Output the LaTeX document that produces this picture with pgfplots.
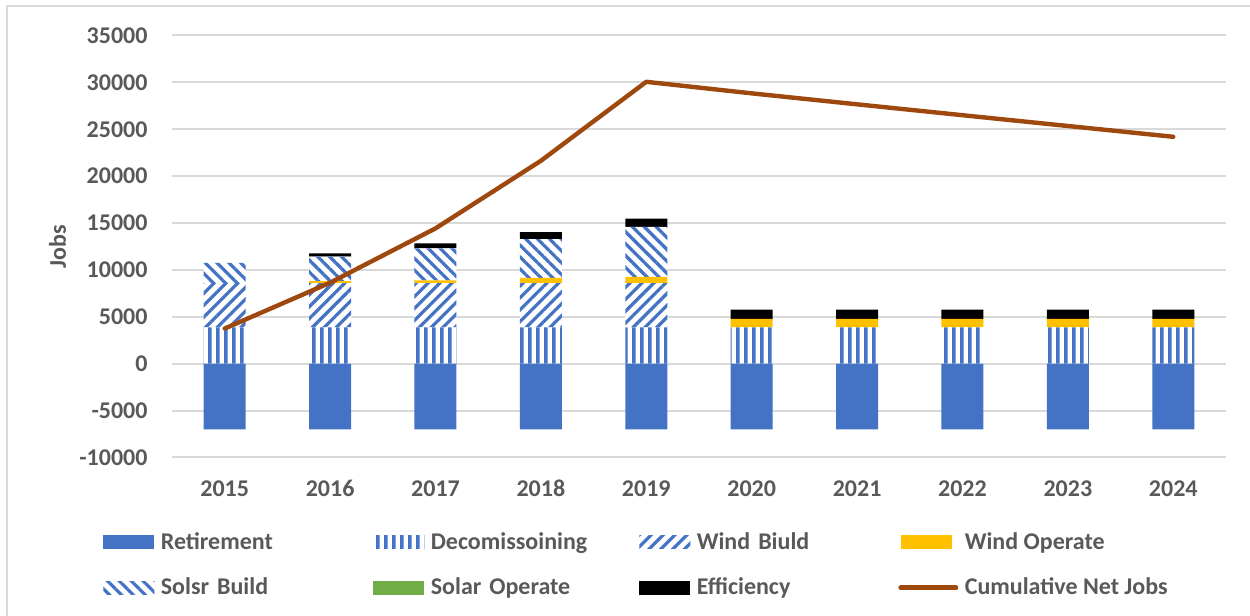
\documentclass[border=0pt]{standalone}
\usepackage{fontspec}
\setmainfont{Carlito}
\usepackage{pgfplots}
\pgfplotsset{compat=1.18}
\usetikzlibrary{patterns,patterns.meta}
\definecolor{retblue}{HTML}{4472C4}
\definecolor{windop}{HTML}{FFC000}
\definecolor{solarop}{HTML}{70AD47}
\definecolor{netline}{HTML}{9E480E}
\definecolor{txtgray}{HTML}{595959}
\definecolor{gridgray}{HTML}{D9D9D9}
\pgfdeclarepatternformonly{vstripes}{\pgfpoint{0pt}{0pt}}{\pgfpoint{4pt}{100pt}}{\pgfpoint{4pt}{100pt}}{%
  \pgfpathrectangle{\pgfpoint{0pt}{-0.5pt}}{\pgfpoint{2pt}{101pt}}\pgfusepath{fill}}
\pgfplotsset{
  barleg/.style={legend image code/.code={\path[##1] (0pt,-3.35pt) rectangle (25.5pt,3.35pt);}},
  lineleg/.style={legend image code/.code={\draw[##1] (0pt,0pt) -- (27.5pt,0pt);}},
  common/.style={width=527pt, height=211pt, scale only axis, xmin=-0.5, xmax=9.5,
    ymin=-10000, ymax=35000, anchor=south west, at={(0pt,0pt)}},
}
\newcommand{\lblfont}{\fontsize{12}{14}\selectfont\bfseries}
\begin{document}
\begin{tikzpicture}
\useasboundingbox (-86pt,-79.25pt) rectangle (539pt,228.75pt);
\draw[gridgray, line width=0.8pt] (-82.5pt,-79.25pt) -- (-82.5pt,225.75pt) -- (539pt,225.75pt);
\begin{axis}[common, ybar stacked, bar width=21pt,
  axis line style={draw=none}, major tick length=0pt,
  ymajorgrids, grid style={gridgray, line width=1pt},
  xtick={0,1,2,3,4,5,6,7,8,9},
  xticklabels={2015,2016,2017,2018,2019,2020,2021,2022,2023,2024},
  ytick={-10000,-5000,0,5000,10000,15000,20000,25000,30000,35000},
  scaled y ticks=false,
  /pgf/number format/1000 sep={},
  /pgf/number format/assume math mode=true,
  tick label style={font=\lblfont, text=txtgray},
  xticklabel style={anchor=base, yshift=-19.5pt},
  yticklabel style={anchor=east, xshift=-8.7pt},
  ylabel={Jobs},
  every axis y label/.style={at={(axis description cs:-0.1086,0.5)}, rotate=90, anchor=center, font=\lblfont, text=txtgray},
  barleg,
  legend columns=4,
  legend cell align=left,
  legend style={at={(axis description cs:-0.0655,-0.1666)}, anchor=north west,
    draw=none, fill=none, inner xsep=0pt, inner ysep=0pt, font=\lblfont, text=txtgray,
    row sep=8.9pt},
]
\addlegendimage{barleg, fill=retblue, draw=none}
\addlegendentry[inner xsep=3.25pt, text width=103pt]{Retirement}
\addplot[draw=none, preaction={fill=white}, pattern=vstripes, pattern color=retblue]
  coordinates {(0,3880) (1,3880) (2,3880) (3,3880) (4,3880) (5,3880) (6,3880) (7,3880) (8,3880) (9,3880)};
\addlegendentry[inner xsep=3.25pt, text width=101pt]{Decomissoining}
\addplot[draw=none, preaction={fill=white}, pattern={Lines[angle=45,distance=4.2pt,line width=1.6pt]}, pattern color=retblue]
  coordinates {(0,4720) (1,4720) (2,4720) (3,4720) (4,4720) (5,0) (6,0) (7,0) (8,0) (9,0)};
\addlegendentry[inner xsep=3.25pt, text width=97.5pt]{Wind Biuld}
\addplot[draw=none, fill=windop]
  coordinates {(0,0) (1,200) (2,300) (3,550) (4,650) (5,900) (6,900) (7,900) (8,900) (9,900)};
\addlegendentry[inner xsep=3.25pt]{Wind Operate}
\addplot[draw=none, preaction={fill=white}, pattern={Lines[angle=-45,distance=4.2pt,line width=1.6pt]}, pattern color=retblue]
  coordinates {(0,2150) (1,2610) (2,3400) (3,4140) (4,5350) (5,0) (6,0) (7,0) (8,0) (9,0)};
\addlegendentry[inner xsep=3.25pt, text width=103pt]{Solsr Build}
\addplot[draw=none, fill=solarop]
  coordinates {(0,0) (1,0) (2,0) (3,0) (4,0) (5,0) (6,0) (7,0) (8,0) (9,0)};
\addlegendentry[inner xsep=3.25pt, text width=101pt]{Solar Operate}
\addplot[draw=none, fill=black]
  coordinates {(0,0) (1,350) (2,540) (3,750) (4,860) (5,1000) (6,1000) (7,1000) (8,1000) (9,1000)};
\addlegendentry[inner xsep=3.25pt, text width=97.5pt]{Efficiency}
\addlegendimage{lineleg, netline, line width=2.5pt, line cap=round}
\addlegendentry[inner xsep=3.25pt]{Cumulative Net Jobs}
\end{axis}
\begin{axis}[common, hide axis]
\addplot[ybar, bar width=21pt, bar shift=0pt, fill=retblue, draw=none]
  coordinates {(0,-7000) (1,-7000) (2,-7000) (3,-7000) (4,-7000) (5,-7000) (6,-7000) (7,-7000) (8,-7000) (9,-7000)};
\addplot[netline, line width=2.2pt, line cap=round, line join=round, mark=none]
  coordinates {(0,3750) (1,8640) (2,14430) (3,21640) (4,30060) (5,28830) (6,27660) (7,26500) (8,25350) (9,24200)};
\end{axis}
\end{tikzpicture}
\end{document}
